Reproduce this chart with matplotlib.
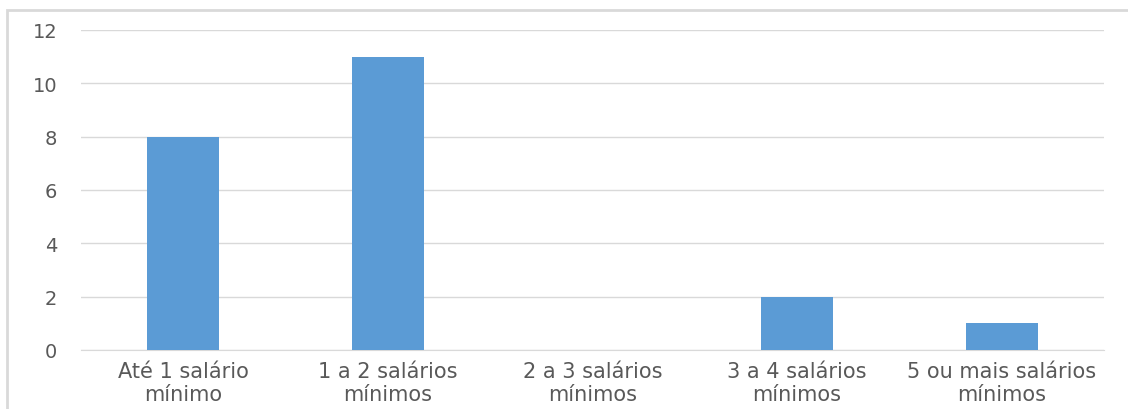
import matplotlib
matplotlib.use("Agg")
import matplotlib.pyplot as plt
from matplotlib.patches import Rectangle

categories = [
    "Até 1 salário\nmínimo",
    "1 a 2 salários\nmínimos",
    "2 a 3 salários\nmínimos",
    "3 a 4 salários\nmínimos",
    "5 ou mais salários\nmínimos",
]
values = [8, 11, 0, 2, 1]
yticks = [0, 2, 4, 6, 8, 10, 12]

plt.rcParams["font.family"] = ["DejaVu Sans"]

fig = plt.figure(figsize=(11.28, 4.10), dpi=100)
ax = fig.add_axes([81 / 1128, 59 / 410, 1023 / 1128, 320 / 410])

# chart frame (only left and top edges visible)
fig.patches.append(
    Rectangle((7 / 1128, -0.1), 1.2, 0.1 + 399 / 410, transform=fig.transFigure,
              fill=False, edgecolor="#d9d9d9", linewidth=2)
)

xs = range(len(categories))
ax.bar(xs, values, width=0.352, color="#5b9bd5", zorder=3)

ax.set_xlim(-0.5, len(categories) - 0.5)
ax.set_ylim(0, 12)
ax.set_yticks(yticks)
ax.set_xticks(list(xs))
ax.set_xticklabels(categories, fontsize=15, color="#595959", linespacing=1.15)
ax.tick_params(axis="y", labelsize=14, labelcolor="#595959", length=0, pad=17)
ax.tick_params(axis="x", length=0, pad=8)
ax.grid(axis="y", color="#d9d9d9", linewidth=1, zorder=0)
for s in ["top", "right", "left"]:
    ax.spines[s].set_visible(False)
ax.spines["bottom"].set_color("#d9d9d9")

fig.savefig("out.png", dpi=100)
